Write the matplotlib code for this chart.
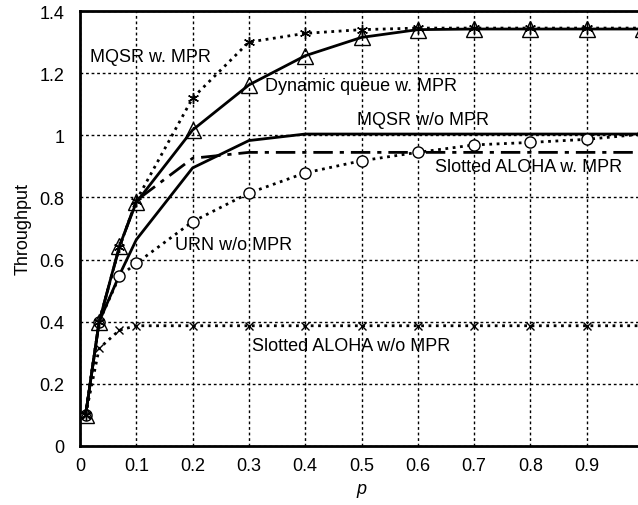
import numpy as np
import matplotlib
matplotlib.use("Agg")
import matplotlib.pyplot as plt

plt.rcParams["font.family"] = ["Liberation Sans", "DejaVu Sans"]

# probability values (x axis)
p = [0.01, 0.034, 0.07, 0.1, 0.2, 0.3, 0.4, 0.5, 0.6, 0.7, 0.8, 0.9, 1.0]

mqsr_mpr = [0.10, 0.40, 0.64, 0.79, 1.12, 1.30, 1.328, 1.34, 1.345, 1.345, 1.345, 1.345, 1.345]
dyn_queue = [0.10, 0.40, 0.643, 0.784, 1.017, 1.162, 1.256, 1.315, 1.34, 1.342, 1.342, 1.342, 1.342]
mqsr_nompr = [0.10, 0.40, 0.55, 0.664, 0.895, 0.983, 1.004, 1.004, 1.004, 1.004, 1.004, 1.004, 1.004]
aloha_mpr = [0.10, 0.40, 0.64, 0.79, 0.926, 0.945, 0.945, 0.945, 0.945, 0.945, 0.945, 0.945, 0.945]
urn_nompr = [0.10, 0.40, 0.546, 0.588, 0.722, 0.814, 0.879, 0.918, 0.945, 0.969, 0.977, 0.987, 1.004]
aloha_nompr = [0.10, 0.314, 0.373, 0.387, 0.387, 0.387, 0.387, 0.387, 0.387, 0.387, 0.387, 0.387, 0.387]

fig = plt.figure(figsize=(6.38, 5.06), dpi=100)
ax = fig.add_axes([80 / 638, 59 / 506, 563 / 638, 435 / 506])

ax.plot(p, mqsr_nompr, color="black", lw=2, zorder=3)
ax.plot(p, aloha_mpr, color="black", lw=2, dashes=(7, 2.5, 1.5, 2.5), zorder=3)
ax.plot(p, urn_nompr, color="black", lw=2, ls=":", marker="o", ms=8,
        mfc="white", mec="black", mew=1, zorder=4)
ax.plot(p, aloha_nompr, color="black", lw=2, ls=":", marker="x", ms=6,
        mew=1, zorder=4)
ax.plot(p, mqsr_mpr, color="black", lw=2, ls=":", marker=(6, 2, 0), ms=8,
        mew=1, zorder=4)
ax.plot(p, dyn_queue, color="black", lw=2, marker="^", ms=12,
        mfc="none", mec="black", mew=1, zorder=5)

fs = 13
ax.text(0.018, 1.255, "MQSR w. MPR", fontsize=fs, va="center")
ax.text(0.329, 1.159, "Dynamic queue w. MPR", fontsize=fs, va="center")
ax.text(0.492, 1.052, "MQSR w/o MPR", fontsize=fs, va="center")
ax.text(0.63, 0.898, "Slotted ALOHA w. MPR", fontsize=fs, va="center")
ax.text(0.169, 0.65, "URN w/o MPR", fontsize=fs, va="center")
ax.text(0.306, 0.325, "Slotted ALOHA w/o MPR", fontsize=fs, va="center")

ax.set_xlim(0, 1)
ax.set_ylim(0, 1.4)
ax.set_xticks(np.arange(0, 1.01, 0.1))
ax.set_xticklabels(["0", "0.1", "0.2", "0.3", "0.4", "0.5", "0.6", "0.7", "0.8", "0.9", "1"])
ax.set_yticks(np.arange(0, 1.41, 0.2))
ax.set_yticklabels(["0", "0.2", "0.4", "0.6", "0.8", "1", "1.2", "1.4"])
ax.tick_params(axis="x", length=0, labelsize=fs, pad=8)
ax.tick_params(axis="y", length=0, labelsize=fs, pad=11)
ax.grid(True, color="black", ls=(0, (2, 2)), lw=1)
for s in ax.spines.values():
    s.set_linewidth(2)

ax.set_xlabel("p", fontsize=fs, style="italic", labelpad=4)
ax.set_ylabel("Throughput", fontsize=fs, labelpad=6)

fig.savefig("out.png", dpi=100)
